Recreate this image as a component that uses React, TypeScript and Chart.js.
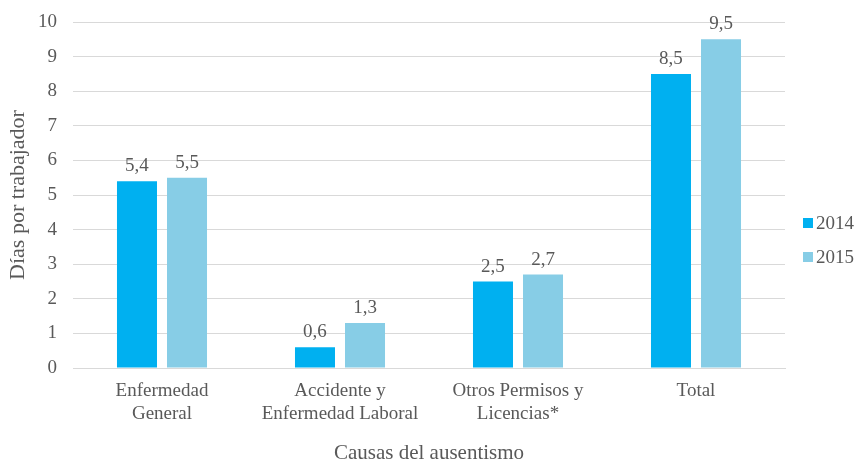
import React, { useEffect, useRef } from "react";
import { Chart, registerables } from "chart.js";

Chart.register(...registerables);

const categories: (string | string[])[] = [
  ["Enfermedad", "General"],
  ["Accidente y", "Enfermedad Laboral"],
  ["Otros Permisos y", "Licencias*"],
  "Total",
];
const seriesNames = ["2014", "2015"];
const series2014 = [5.4, 0.6, 2.5, 8.5];
const series2015 = [5.5, 1.3, 2.7, 9.5];
const yTicks = [0, 1, 2, 3, 4, 5, 6, 7, 8, 9, 10];
const colors = ["#00B0F0", "#87CDE6"];

const FONT = "'Liberation Serif', 'Times New Roman', serif";
const GREY = "#595959";

const labelPlugin = {
  id: "valueLabels",
  afterDatasetsDraw(chart: any) {
    const ctx = chart.ctx;
    ctx.save();
    ctx.font = `19px ${FONT}`;
    ctx.fillStyle = GREY;
    ctx.textAlign = "center";
    ctx.textBaseline = "alphabetic";
    chart.data.datasets.forEach((ds: any, i: number) => {
      const meta = chart.getDatasetMeta(i);
      meta.data.forEach((bar: any, j: number) => {
        const v = ds.data[j];
        ctx.fillText(String(v).replace(".", ","), bar.x, bar.y - 10);
      });
    });
    ctx.restore();
  },
};

const legendPlugin = {
  id: "customLegend",
  afterDraw(chart: any) {
    const ctx = chart.ctx;
    ctx.save();
    ctx.font = `19px ${FONT}`;
    ctx.textBaseline = "middle";
    ctx.textAlign = "left";
    const x0 = chart.chartArea.right + 18;
    const yMid = (chart.chartArea.top + chart.chartArea.bottom) / 2;
    chart.data.datasets.forEach((ds: any, i: number) => {
      const cy = yMid + 28 + i * 34;
      ctx.fillStyle = ds.backgroundColor;
      ctx.fillRect(x0, cy - 5, 10, 10);
      ctx.fillStyle = GREY;
      ctx.fillText(ds.label, x0 + 13, cy + 1);
    });
    ctx.restore();
  },
};

export default function App() {
  const ref = useRef<HTMLCanvasElement>(null);
  useEffect(() => {
    document.body.style.margin = "0";
    const chart = new Chart(ref.current!, {
      type: "bar",
      data: {
        labels: categories,
        datasets: [
          { label: seriesNames[0], data: series2014, backgroundColor: colors[0] },
          { label: seriesNames[1], data: series2015, backgroundColor: colors[1] },
        ],
      },
      options: {
        animation: false,
        responsive: false,
        layout: { padding: { left: 0, right: 72, top: 22, bottom: 0 } },
        datasets: {
          bar: { categoryPercentage: 0.562, barPercentage: 0.8 },
        } as any,
        plugins: {
          legend: { display: false },
          tooltip: { enabled: false },
        },
        scales: {
          x: {
            afterFit: (axis: any) => {
              axis.height = 93;
              axis.paddingLeft = 0;
              axis.paddingRight = 0;
            },
            grid: { display: false },
            border: { color: "#D9D9D9", width: 1 },
            ticks: {
              color: GREY,
              font: { family: FONT, size: 19, lineHeight: 1.2 },
              maxRotation: 0,
              autoSkip: false,
              padding: 4,
            },
            title: {
              display: true,
              text: "Causas del ausentismo",
              color: GREY,
              font: { family: FONT, size: 21, lineHeight: 0.75 },
              padding: { top: 0, bottom: 0 },
            },
          },
          y: {
            min: 0,
            max: 10,
            afterFit: (axis: any) => {
              axis.width = 73;
              axis.paddingTop = 0;
              axis.paddingBottom = 0;
            },
            afterBuildTicks: (axis: any) => {
              axis.ticks = yTicks.map((v) => ({ value: v }));
            },
            grid: { color: "#D9D9D9", drawTicks: false },
            border: { display: false },
            ticks: { color: GREY, font: { family: FONT, size: 19 }, padding: 16 },
            title: {
              display: true,
              text: "Días por trabajador",
              color: GREY,
              font: { family: FONT, size: 22, lineHeight: 1 },
              padding: { top: 7, bottom: 0 },
            },
          },
        },
      },
      plugins: [labelPlugin, legendPlugin],
    });
    return () => chart.destroy();
  }, []);
  return <canvas ref={ref} width={857} height={461} />;
}
